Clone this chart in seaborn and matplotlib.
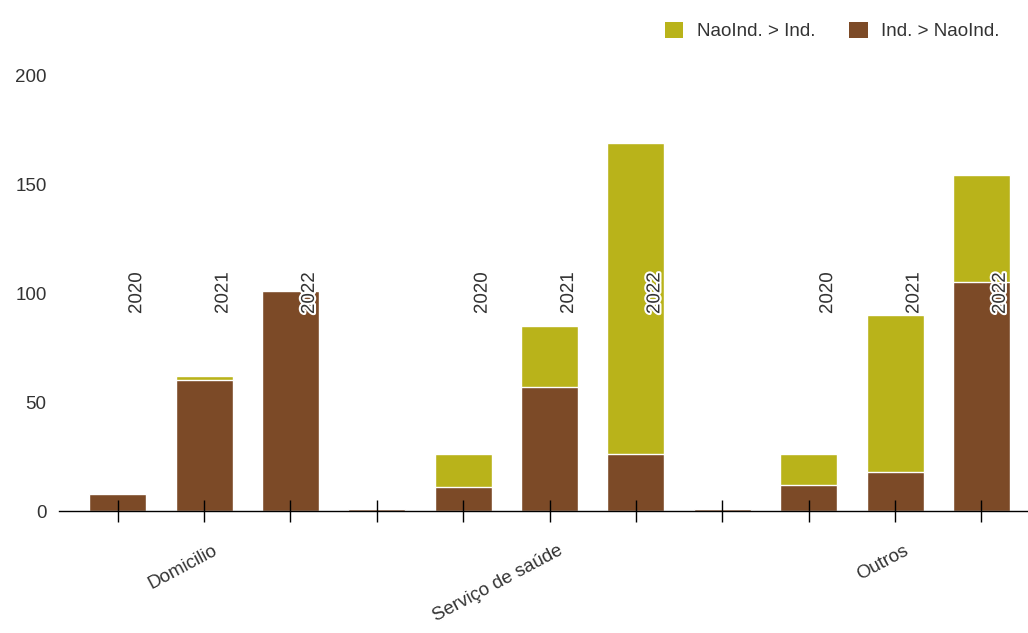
import numpy as np
import pandas as pd
import matplotlib
matplotlib.use("Agg")
import matplotlib.pyplot as plt
import matplotlib.patheffects as pe
import matplotlib.transforms as mtransforms
from matplotlib.patches import Patch
import seaborn as sns

# ---------------------------------------------------------
# Data
# ---------------------------------------------------------
categories = ["Domicilio", "Serviço de saúde", "Outros"]
years = ["2020", "2021", "2022"]
# 11 slots: 3 groups of 3 years, with one small spacer slot between groups
slot_names = ["Dom 2020", "Dom 2021", "Dom 2022", "gap1",
              "Serv 2020", "Serv 2021", "Serv 2022", "gap2",
              "Out 2020", "Out 2021", "Out 2022"]
ind_to_naoind = [8, 60, 101, 1, 11, 57, 26, 1, 12, 18, 105]
naoind_to_ind = [0, 2, 0, 0, 15, 28, 143, 0, 14, 72, 49]
year_slots = [0, 1, 2, 4, 5, 6, 8, 9, 10]
category_slots = [1, 5, 9]

YELLOW = "#b9b31a"
BROWN = "#7c4a27"
TEXT = "#333333"

df = pd.DataFrame({
    "slot": slot_names,
    "brown": ind_to_naoind,
    "yellow": naoind_to_ind,
})
df["total"] = df["brown"] + df["yellow"]

sns.set_style("white")
plt.rcParams["font.family"] = ["Liberation Sans", "DejaVu Sans"]

fig = plt.figure(figsize=(10.28, 6.33), dpi=100)
ax = fig.add_axes([0.0574, 0.1927, 0.9426, 0.6888])

# stacked bars: draw totals first, brown part on top
sns.barplot(data=df, x="slot", y="total", order=slot_names, color=YELLOW,
            saturation=1, width=0.66, edgecolor="white", linewidth=1, ax=ax)
sns.barplot(data=df, x="slot", y="brown", order=slot_names, color=BROWN,
            saturation=1, width=0.66, edgecolor="white", linewidth=1, ax=ax)

ax.set_xlim(-0.68, 10.54)
ax.set_ylim(0, 200)
ax.set_yticks([0, 50, 100, 150, 200])
ax.set_xlabel("")
ax.set_ylabel("")
ax.set_axisbelow(False)  # ticks drawn over the bars

for side in ["left", "right", "top"]:
    ax.spines[side].set_visible(False)
ax.spines["bottom"].set_color("black")
ax.spines["bottom"].set_linewidth(1)

ax.tick_params(axis="y", left=False, length=0, pad=9, labelsize=13.5,
               labelcolor=TEXT)

# ticks on every slot, labels only for the middle of each group
ax.set_xticks(range(len(slot_names)))
xlabels = [""] * len(slot_names)
for pos, cat in zip(category_slots, categories):
    xlabels[pos] = cat
ax.set_xticklabels(xlabels, rotation=28, ha="right", va="center",
                   rotation_mode="anchor")
ax.tick_params(axis="x", bottom=True, direction="inout", length=16, width=1,
               color="black", pad=20, labelsize=13.5, labelcolor=TEXT)
shift = mtransforms.ScaledTranslation(0.12, 0, fig.dpi_scale_trans)
for lab in ax.get_xticklabels():
    lab.set_transform(lab.get_transform() + shift)

# year labels above the bars
for i, pos in enumerate(year_slots):
    ax.text(pos + 0.22, 100, years[i % 3], rotation=90, ha="center",
            va="center", fontsize=13.5, color=TEXT,
            path_effects=[pe.withStroke(linewidth=3, foreground="white")])

handles = [Patch(facecolor=YELLOW, edgecolor="none", label="NaoInd. > Ind."),
           Patch(facecolor=BROWN, edgecolor="none", label="Ind. > NaoInd.")]
fig.legend(handles=handles, loc="center right", bbox_to_anchor=(0.972, 0.951),
           ncol=2, frameon=False, fontsize=13.5, handlelength=1.0,
           handleheight=1.0, handletextpad=0.7, columnspacing=1.8,
           borderpad=0, borderaxespad=0, labelcolor=TEXT)

fig.savefig("out.png", dpi=100)
